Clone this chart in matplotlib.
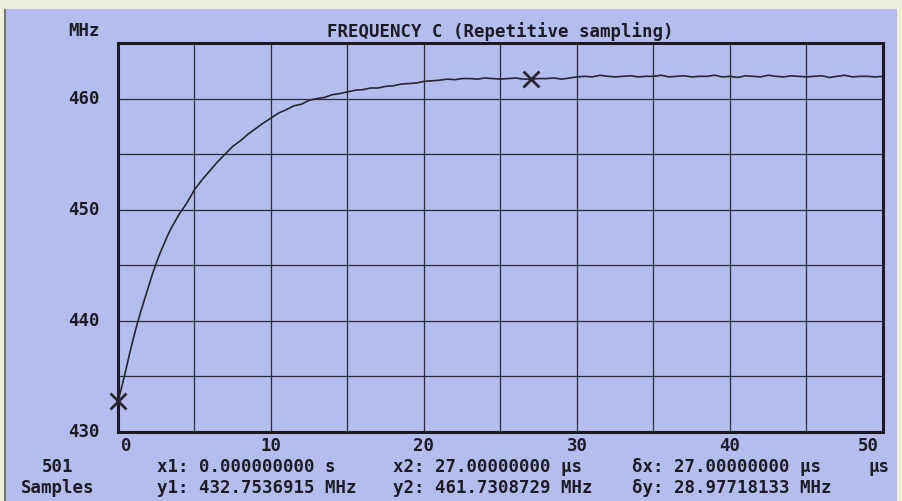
import matplotlib
matplotlib.use('Agg')
import matplotlib.pyplot as plt
from matplotlib.patches import Rectangle

# time axis (µs) and frequency readings (MHz)
t_us=[0,0.25,0.5,0.75,1.0,1.25,1.5,1.75,2.0,2.25,2.5,2.75,3.0,3.25,3.5,3.75,4.0,4.25,4.5,4.75,
      5.0,5.5,6.0,6.5,7.0,7.5,8.0,8.5,9.0,9.5,10.0,10.5,11.0,11.5,12.0,12.5,13.0,13.5,14.0,14.5,
      15.0,15.5,16.0,16.5,17.0,17.5,18.0,18.5,19.0,19.5,20.0,20.5,21.0,21.5,22.0,22.5,23.0,23.5,24.0,24.5,
      25.0,25.5,26.0,26.5,27.0,27.5,28.0,28.5,29.0,29.5,30.0,30.5,31.0,31.5,32.0,32.5,33.0,33.5,34.0,34.5,
      35.0,35.5,36.0,36.5,37.0,37.5,38.0,38.5,39.0,39.5,40.0,40.5,41.0,41.5,42.0,42.5,43.0,43.5,44.0,44.5,
      45.0,45.5,46.0,46.5,47.0,47.5,48.0,48.5,49.0,49.5,50.0]
freq_mhz=[432.75,434.1,435.5,437.0,438.4,439.7,440.9,442.0,443.1,444.2,445.2,446.1,446.9,447.7,448.4,449.0,449.6,450.1,450.6,451.2,
          451.8,452.7,453.5,454.3,455.0,455.7,456.2,456.8,457.3,457.8,458.25,458.7,459.0,459.35,459.5,459.85,460.0,460.1,460.35,460.45,
          460.6,460.75,460.8,460.95,460.95,461.1,461.15,461.3,461.35,461.4,461.55,461.6,461.65,461.75,461.7,461.8,461.8,461.75,461.85,461.8,
          461.75,461.8,461.85,461.75,461.75,461.8,461.8,461.85,461.75,461.85,461.95,462.0,461.95,462.1,462.0,461.95,462.0,462.05,461.95,462.0,
          462.0,462.1,461.95,462.0,462.05,461.95,462.0,462.0,462.1,461.95,462.0,461.9,462.05,462.0,461.95,462.1,462.0,461.95,462.05,462.0,
          461.95,462.0,462.05,461.9,462.0,462.1,461.95,462.0,462.0,461.95,462.0]

# cursor readings
cursor_x=[0.0,27.0]
cursor_y=[432.7536915,461.7308729]

x_ticks=[0,10,20,30,40,50]
y_ticks=[430,440,450,460]

W,H=903,501
fig=plt.figure(figsize=(W/100,H/100),dpi=100)
fig.patch.set_facecolor('#eef0dc')
fig.patches.append(Rectangle((6/W,0),(897-6)/W,(H-9)/H,transform=fig.transFigure,
                             facecolor='#b5bdee',edgecolor='none',zorder=-10))
fig.patches.append(Rectangle((4/W,0),2/W,(H-9)/H,transform=fig.transFigure,
                             facecolor='#6a7a70',edgecolor='none',zorder=-10))

mono=dict(family='DejaVu Sans Mono',weight='bold',size=12.5,color='#1c1c24')

ax=fig.add_axes([118/W,(H-432)/H,(883-118)/W,(432-43)/H])
ax.set_zorder(2)
ax.set_facecolor('none')
ax.set_xlim(0,50)
ax.set_ylim(430,465)
ax.set_xticks(range(0,51,5))
ax.set_yticks(range(430,466,5))
ax.grid(True,color='#2c2c3a',linewidth=0.9)
ax.tick_params(length=0)
ax.set_xticklabels([])
ax.set_yticklabels([])
for s in ax.spines.values():
    s.set_linewidth(2.2)
    s.set_color('#1a1a22')

for v in x_ticks:
    ha='center'
    dx=0
    if v==0:ha='left';dx=3
    if v==50:ha='right';dx=-4
    ax.annotate(str(v),(v,430),xytext=(dx,-14),textcoords='offset pixels',ha=ha,va='center',**mono)
for v in y_ticks:
    ax.annotate(str(v),(0,v),xytext=(-18,0),textcoords='offset pixels',ha='right',va='center',**mono)

ax.plot(t_us,freq_mhz,color='#26262e',linewidth=1.2,zorder=3)
ax.plot(cursor_x,cursor_y,linestyle='none',marker='x',markersize=12,markeredgewidth=2,color='#26262e',zorder=4,clip_on=False)

ax.set_title('FREQUENCY C (Repetitive sampling)',pad=4,**mono)

def ftext(x,y,s,ha='left'):
    fig.text(x/W,1-y/H,s,ha=ha,va='center',**mono)

ftext(100,31,'MHz',ha='right')
ftext(58,467,'501',ha='center')
ftext(58,488,'Samples',ha='center')
ftext(157,467,'x1: 0.000000000 s')
ftext(157,488,'y1: 432.7536915 MHz')
ftext(393,467,'x2: 27.00000000 µs')
ftext(393,488,'y2: 461.7308729 MHz')
ftext(632,467,'δx: 27.00000000 µs')
ftext(632,488,'δy: 28.97718133 MHz')
ftext(890,467,'µs',ha='right')

fig.savefig('out.png',dpi=100,facecolor=fig.get_facecolor())
